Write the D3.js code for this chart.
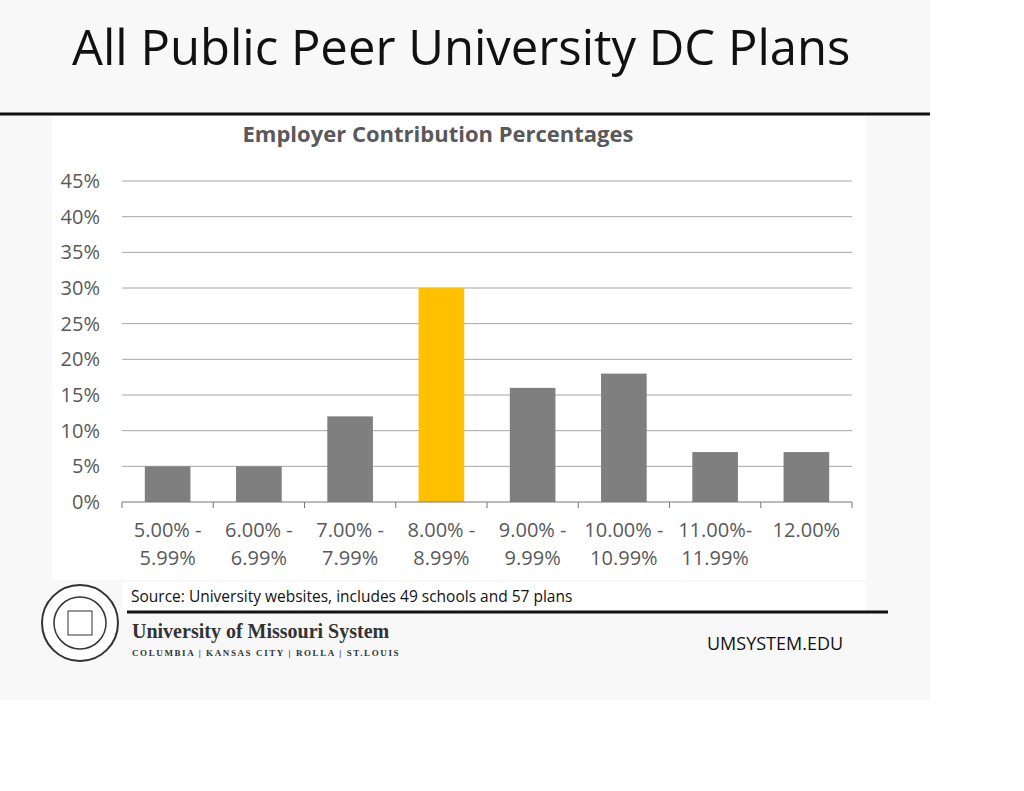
<!DOCTYPE html>
<html><head><meta charset="utf-8">
<script src="https://cdn.jsdelivr.net/npm/d3@7"></script>
<style>body{margin:0;background:#fff}</style>
</head><body>
<div id="chart"></div>
<script>
// chart data
const categories = ["5.00% -|5.99%", "6.00% -|6.99%", "7.00% -|7.99%", "8.00% -|8.99%", "9.00% -|9.99%", "10.00% -|10.99%", "11.00%-|11.99%", "12.00%"];
const values = [5, 5, 12, 30, 16, 18, 7, 7];
const highlight = [false, false, false, true, false, false, false, false];
const yTicks = [0, 5, 10, 15, 20, 25, 30, 35, 40, 45];

const svg = d3.select("#chart").append("svg").attr("width", 1024).attr("height", 791);
const font = "'Open Sans', 'Liberation Sans', sans-serif";

// slide background
svg.append("rect").attr("x", 0).attr("y", 0).attr("width", 930).attr("height", 700).attr("fill", "#f8f8f8");
svg.append("text").attr("x", 72).attr("y", 65).attr("font-family", font).attr("font-size", 49).attr("fill", "#111")
  .text("All Public Peer University DC Plans");
svg.append("line").attr("x1", 0).attr("x2", 930).attr("y1", 114).attr("y2", 114).attr("stroke", "#111").attr("stroke-width", 3);

// chart area
svg.append("rect").attr("x", 52).attr("y", 116).attr("width", 814).attr("height", 464).attr("fill", "#fff");
svg.append("text").attr("x", 438).attr("y", 142).attr("text-anchor", "middle").attr("font-family", font)
  .attr("font-weight", "bold").attr("font-size", 22).attr("fill", "#595959").text("Employer Contribution Percentages");

const x = d3.scaleBand().domain(categories).range([122, 852]).paddingInner(0.5).paddingOuter(0.25);
const xb = d3.scaleBand().domain(categories).range([122, 852]);
const y = d3.scaleLinear().domain([0, 45]).range([502, 181]);

const g = svg.append("g");
g.selectAll(".grid").data(yTicks.slice(1)).join("line")
  .attr("x1", 122).attr("x2", 852).attr("y1", d => y(d)).attr("y2", d => y(d))
  .attr("stroke", "#a6a6a6").attr("stroke-width", 1);
g.selectAll(".yl").data(yTicks).join("text")
  .attr("x", 100).attr("y", d => y(d) + 7).attr("text-anchor", "end")
  .attr("font-family", font).attr("font-size", 20).attr("fill", "#595959").text(d => d + "%");

g.selectAll(".bar").data(values).join("rect")
  .attr("x", (d, i) => x(categories[i])).attr("y", d => y(d))
  .attr("width", x.bandwidth()).attr("height", d => y(0) - y(d))
  .attr("fill", (d, i) => highlight[i] ? "#ffc000" : "#7f7f7f");

// x axis
g.append("line").attr("x1", 122).attr("x2", 852).attr("y1", y(0)).attr("y2", y(0)).attr("stroke", "#777");
g.selectAll(".tk").data(categories.concat(["end"])).join("line")
  .attr("x1", (d, i) => 122 + i * xb.bandwidth()).attr("x2", (d, i) => 122 + i * xb.bandwidth())
  .attr("y1", y(0)).attr("y2", y(0) + 6).attr("stroke", "#777");
categories.forEach(c => {
  const t = g.append("text").attr("text-anchor", "middle").attr("font-family", font)
    .attr("font-size", 20).attr("fill", "#595959");
  c.split("|").forEach((s, j) => t.append("tspan").attr("x", xb(c) + xb.bandwidth() / 2).attr("y", 537 + j * 28).text(s));
});

// footer
svg.append("rect").attr("x", 122).attr("y", 582).attr("width", 744).attr("height", 28).attr("fill", "#fff");
svg.append("text").attr("x", 131).attr("y", 602).attr("font-family", font).attr("font-size", 15.5).attr("fill", "#111")
  .text("Source: University websites, includes 49 schools and 57 plans");
svg.append("line").attr("x1", 127).attr("x2", 888).attr("y1", 612).attr("y2", 612).attr("stroke", "#111").attr("stroke-width", 3);
const seal = svg.append("g").attr("transform", "translate(80,623)");
seal.append("circle").attr("r", 38).attr("fill", "#fff").attr("stroke", "#333").attr("stroke-width", 2);
seal.append("circle").attr("r", 26).attr("fill", "none").attr("stroke", "#333").attr("stroke-width", 1.5);
seal.append("rect").attr("x", -12).attr("y", -12).attr("width", 24).attr("height", 24).attr("fill", "none").attr("stroke", "#333");
svg.append("text").attr("x", 132).attr("y", 638).attr("font-family", "'Liberation Serif', serif").attr("font-weight", "bold")
  .attr("font-size", 20).attr("fill", "#333").text("University of Missouri System");
svg.append("text").attr("x", 132).attr("y", 656).attr("font-family", "'Liberation Serif', serif").attr("font-weight", "bold")
  .attr("font-size", 9).attr("letter-spacing", 1.6).attr("fill", "#333").text("COLUMBIA | KANSAS CITY | ROLLA | ST.LOUIS");
svg.append("text").attr("x", 707).attr("y", 650).attr("font-family", font).attr("font-weight", 500)
  .attr("font-size", 18).attr("fill", "#111").text("UMSYSTEM.EDU");
</script>
</body></html>
